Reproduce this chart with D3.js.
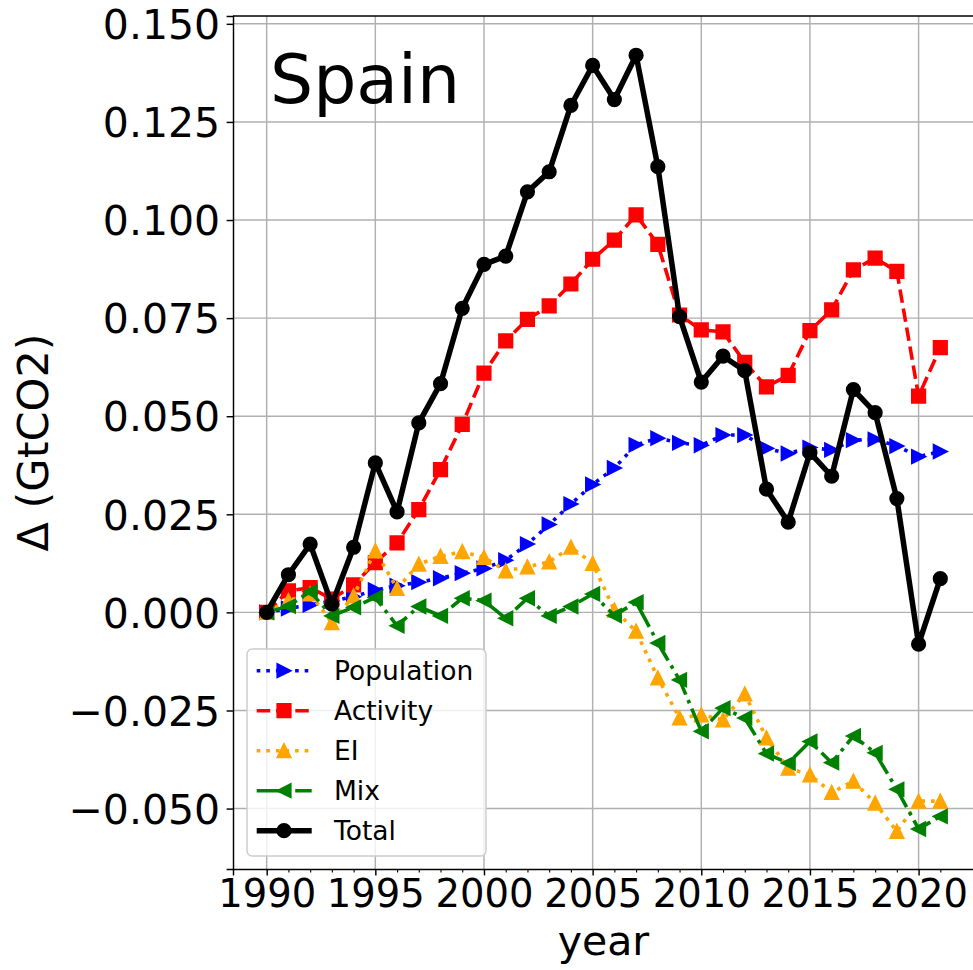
<!DOCTYPE html>
<html>
<head>
<meta charset="utf-8">
<script src="https://cdn.jsdelivr.net/npm/d3@7"></script>
<style>
  body { margin: 0; background: #fff; }
  svg { display: block; font-family: "DejaVu Sans", sans-serif; }
</style>
</head>
<body>
<div class="decomp-chart"></div>
<script>
var years = d3.range(1990, 2022);

var population = [0, 0.0010, 0.0019, 0.0029, 0.0040, 0.0057, 0.0068, 0.0077, 0.0087, 0.0100,
  0.0112, 0.0133, 0.0174, 0.0224, 0.0276, 0.0326, 0.0368, 0.0427, 0.0444, 0.0432,
  0.0426, 0.0452, 0.0452, 0.0418, 0.0405, 0.0420, 0.0414, 0.0439, 0.0441, 0.0424,
  0.0397, 0.0410];
var activity = [0, 0.0055, 0.0063, 0.0034, 0.0070, 0.0127, 0.0177, 0.0262, 0.0364, 0.0479,
  0.0610, 0.0692, 0.0747, 0.0781, 0.0837, 0.0900, 0.0949, 0.1013, 0.0938, 0.0758,
  0.0720, 0.0715, 0.0637, 0.0575, 0.0604, 0.0718, 0.0771, 0.0873, 0.0903, 0.0869,
  0.0551, 0.0675];
var ei = [0, 0.0030, 0.0047, -0.0026, 0.0042, 0.0157, 0.0061, 0.0123, 0.0143, 0.0155,
  0.0140, 0.0106, 0.0116, 0.0129, 0.0166, 0.0125, 0.0006, -0.0048, -0.0167, -0.0269,
  -0.0261, -0.0274, -0.0208, -0.0320, -0.0397, -0.0414, -0.0459, -0.0430, -0.0486, -0.0558,
  -0.0481, -0.0481];
var mix = [0, 0.0016, 0.0053, -0.0009, 0.0013, 0.0038, -0.0034, 0.0015, -0.0009, 0.0036,
  0.0030, -0.0015, 0.0036, -0.0009, 0.0015, 0.0047, -0.0008, 0.0026, -0.0078, -0.0172,
  -0.0303, -0.0244, -0.0269, -0.0360, -0.0384, -0.0329, -0.0383, -0.0315, -0.0358, -0.0451,
  -0.0552, -0.0520];
var total = [0, 0.0096, 0.0174, 0.0021, 0.0166, 0.0381, 0.0256, 0.0483, 0.0583, 0.0775,
  0.0887, 0.0908, 0.1072, 0.1123, 0.1292, 0.1394, 0.1307, 0.1420, 0.1136, 0.0754,
  0.0587, 0.0653, 0.0616, 0.0314, 0.0230, 0.0407, 0.0347, 0.0568, 0.0509, 0.0290,
  -0.0081, 0.0086];

var xTicks = [1990, 1995, 2000, 2005, 2010, 2015, 2020];
var yTicks = [-0.05, -0.025, 0, 0.025, 0.05, 0.075, 0.1, 0.125, 0.15];

var series = [
  {name: "Population", values: population, color: "blue", marker: "right", dash: "3.6,6", width: 3.6},
  {name: "Activity", values: activity, color: "red", marker: "square", dash: "13.5,5.8", width: 3.6},
  {name: "EI", values: ei, color: "orange", marker: "up", dash: "3.6,6", width: 3.6},
  {name: "Mix", values: mix, color: "green", marker: "left", dash: "23.3,5.8,3.6,5.8", width: 3.6},
  {name: "Total", values: total, color: "black", marker: "circle", dash: null, width: 5.5}
];

var margin = {top: 16, right: -1, bottom: 101, left: 233};
var W = 973, H = 970;
var width = W - margin.left - margin.right;
var height = H - margin.top - margin.bottom;

var x = d3.scaleLinear().domain([1988.45, 2022.55]).range([0, width]);
var y = d3.scaleLinear().domain([-0.0654, 0.1520]).range([height, 0]);

var svg = d3.select(".decomp-chart")
    .append("svg")
    .attr("width", W)
    .attr("height", H);

svg.append("rect").attr("width", W).attr("height", H).attr("fill", "#fff");

var g = svg.append("g").attr("transform", "translate(" + margin.left + "," + margin.top + ")");

// grid
g.append("g").selectAll("line").data(xTicks).join("line")
    .attr("x1", d => x(d)).attr("x2", d => x(d))
    .attr("y1", 0).attr("y2", height)
    .attr("stroke", "#b0b0b0").attr("stroke-width", 1.45);
g.append("g").selectAll("line").data(yTicks).join("line")
    .attr("x1", 0).attr("x2", width)
    .attr("y1", d => y(d)).attr("y2", d => y(d))
    .attr("stroke", "#b0b0b0").attr("stroke-width", 1.45);

// axes
var xAxis = g.append("g")
    .attr("transform", "translate(0," + height + ")")
    .call(d3.axisBottom(x).tickValues(xTicks).tickFormat(d3.format("d")).tickSize(6.4).tickPadding(6.4));
var xMinor = g.append("g")
    .attr("transform", "translate(0," + height + ")")
    .call(d3.axisBottom(x).tickValues(years.filter(d => d % 5 !== 0)).tickFormat("").tickSize(3.6));
xMinor.select(".domain").remove();
xMinor.selectAll("line").attr("stroke-width", 1.1);

var yAxis = g.append("g")
    .call(d3.axisLeft(y).tickValues(yTicks).tickFormat(d3.format(".3f")).tickSize(6.4).tickPadding(6.4));

[xAxis, yAxis].forEach(function(a) {
  a.select(".domain").attr("stroke-width", 1.45);
  a.selectAll(".tick line").attr("stroke-width", 1.45);
  a.selectAll("text").attr("font-size", 41).attr("fill", "#000")
      .attr("font-family", "DejaVu Sans");
});
xAxis.selectAll("text").attr("font-size", 38.5).attr("dy", "0.66em");
yAxis.selectAll("text").attr("dy", "0.36em");

// top and right spines
g.append("line").attr("x1", 0).attr("x2", width).attr("y1", 0).attr("y2", 0)
    .attr("stroke", "#000").attr("stroke-width", 1.45);
g.append("line").attr("x1", width).attr("x2", width).attr("y1", 0).attr("y2", height)
    .attr("stroke", "#000").attr("stroke-width", 1.45);

function markerPath(type, s) {
  var h = s / 2;
  if (type === "right") return "M" + h + ",0L" + (-h) + "," + (-h) + "L" + (-h) + "," + h + "Z";
  if (type === "left") return "M" + (-h) + ",0L" + h + "," + (-h) + "L" + h + "," + h + "Z";
  if (type === "up") return "M0," + (-h) + "L" + (-h) + "," + h + "L" + h + "," + h + "Z";
  if (type === "square") return "M" + (-h) + "," + (-h) + "h" + s + "v" + s + "h" + (-s) + "Z";
  return d3.symbol(d3.symbolCircle, Math.PI * h * h)();
}

var line = d3.line().x((d, i) => x(years[i])).y(d => y(d));

var plot = g.append("g");
series.forEach(function(s) {
  var sg = plot.append("g");
  sg.append("path")
      .attr("d", line(s.values))
      .attr("fill", "none")
      .attr("stroke", s.color)
      .attr("stroke-width", s.width)
      .attr("stroke-dasharray", s.dash)
      .attr("stroke-linejoin", "round");
  sg.selectAll("path.mk").data(s.values).join("path")
      .attr("class", "mk")
      .attr("transform", (d, i) => "translate(" + x(years[i]) + "," + y(d) + ")")
      .attr("d", markerPath(s.marker, 13.4))
      .attr("fill", s.color)
      .attr("stroke", s.color)
      .attr("stroke-width", 1.8)
      .attr("stroke-linejoin", "miter");
});

// title
g.append("text")
    .attr("x", 270 - margin.left).attr("y", 103 - margin.top)
    .attr("font-size", 68)
    .text("Spain");

// axis labels
svg.append("text")
    .attr("x", margin.left + width / 2).attr("y", 955)
    .attr("text-anchor", "middle").attr("font-size", 41)
    .text("year");
svg.append("text")
    .attr("transform", "translate(48," + (margin.top + height / 2) + ") rotate(-90)")
    .attr("text-anchor", "middle").attr("font-size", 43)
    .text("Δ (GtCO2)");

// legend
var lg = svg.append("g").attr("transform", "translate(247,649)");
lg.append("rect")
    .attr("width", 239).attr("height", 207)
    .attr("rx", 5.3).attr("ry", 5.3)
    .attr("fill", "#fff").attr("fill-opacity", 0.8)
    .attr("stroke", "#cccccc").attr("stroke-width", 1.45);
series.forEach(function(s, i) {
  var ry = 21.7 + i * 40;
  lg.append("line")
      .attr("x1", 9.7).attr("x2", 64.7).attr("y1", ry).attr("y2", ry)
      .attr("stroke", s.color).attr("stroke-width", s.width)
      .attr("stroke-dasharray", s.dash);
  lg.append("path")
      .attr("transform", "translate(37," + ry + ")")
      .attr("d", markerPath(s.marker, 13.4))
      .attr("fill", s.color).attr("stroke", s.color).attr("stroke-width", 1.8);
  lg.append("text")
      .attr("x", 87).attr("y", ry).attr("dy", "0.36em")
      .attr("font-size", 26.5)
      .text(s.name);
});
</script>
</body>
</html>
